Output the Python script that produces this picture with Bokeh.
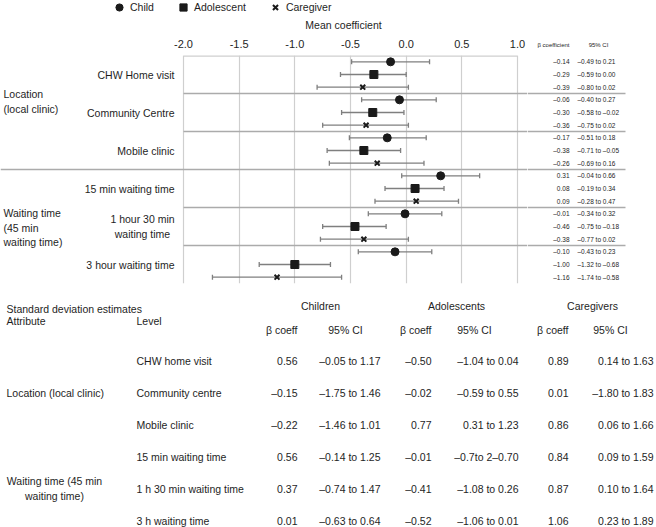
from bokeh.plotting import figure
from bokeh.models import (ColumnDataSource, Range1d, FixedTicker, NumeralTickFormatter,
                          Whisker, TeeHead, Label, Legend, LegendItem, Span)
from bokeh.layouts import column, row
from bokeh.core.properties import value
from bokeh.embed import file_html
from bokeh.resources import INLINE

# ---------------- data: forest plot (mean coefficients) ----------------
series_names = ["Child", "Adolescent", "Caregiver"]
attributes = ["Location\n(local clinic)", "Waiting time\n(45 min\nwaiting time)"]
levels_per_attribute = [3, 3]
forest_levels = ["CHW Home visit", "Community Centre", "Mobile clinic",
                 "15 min waiting time", "1 hour 30 min\nwaiting time", "3 hour waiting time"]

child_beta = [-0.14, -0.06, -0.17, 0.31, -0.01, -0.10]
child_lo = [-0.49, -0.40, -0.51, -0.04, -0.34, -0.43]
child_hi = [0.21, 0.27, 0.18, 0.66, 0.32, 0.23]

adol_beta = [-0.29, -0.30, -0.38, 0.08, -0.46, -1.00]
adol_lo = [-0.59, -0.58, -0.71, -0.19, -0.75, -1.32]
adol_hi = [0.00, -0.02, -0.05, 0.34, -0.18, -0.68]

care_beta = [-0.39, -0.36, -0.26, 0.09, -0.38, -1.16]
care_lo = [-0.80, -0.75, -0.69, -0.28, -0.77, -1.74]
care_hi = [0.02, 0.02, 0.16, 0.47, 0.02, -0.58]

x_ticks = [-2.0, -1.5, -1.0, -0.5, 0.0, 0.5, 1.0]
right_headers = ["\u03b2 coefficient", "95% CI"]

# ---------------- data: standard deviation table ----------------
sd_attributes = ["Location (local clinic)", "Waiting time (45 min\nwaiting time)"]
sd_levels = ["CHW home visit", "Community centre", "Mobile clinic",
             "15 min waiting time", "1 h 30 min waiting time", "3 h waiting time"]
sd_groups = ["Children", "Adolescents", "Caregivers"]
sd_child_beta = [0.56, -0.15, -0.22, 0.56, 0.37, 0.01]
sd_child_ci = ["\u20130.05 to 1.17", "\u20131.75 to 1.46", "\u20131.46 to 1.01",
               "\u20130.14 to 1.25", "\u20130.74 to 1.47", "\u20130.63 to 0.64"]
sd_adol_beta = [-0.50, -0.02, 0.77, -0.01, -0.41, -0.52]
sd_adol_ci = ["\u20131.04 to 0.04", "\u20130.59 to 0.55", "0.31 to 1.23",
              "\u20130.7to 2\u20130.70", "\u20131.08 to 0.26", "\u20131.06 to 0.01"]
sd_care_beta = [0.89, 0.01, 0.86, 0.84, 0.87, 1.06]
sd_care_ci = ["0.14 to 1.63", "\u20131.80 to 1.83", "0.06 to 1.66",
              "0.09 to 1.59", "0.10 to 1.64", "0.23 to 1.89"]

# ---------------- style ----------------
FONT = "Liberation Sans"
TEXT = "#1e1e1e"
MARK = "#1a1a1a"
BAR = "#7f7f7f"
GRID = "#cfcfcf"
SEP = "#ababab"
FS = "10.5px"


def fmt(v):
    return f"{v:.2f}".replace("-", "\u2013")


def bare(fig):
    fig.outline_line_color = None
    fig.xgrid.grid_line_color = None
    fig.ygrid.grid_line_color = None
    return fig


def style_top_axis(axis, size):
    axis.axis_line_color = None
    axis.major_tick_line_color = None
    axis.minor_tick_line_color = None
    axis.major_tick_out = 0
    axis.major_tick_in = 0
    axis.major_label_standoff = 8
    axis.major_label_text_font = FONT
    axis.major_label_text_font_size = size
    axis.major_label_text_color = TEXT


W = 656
H_HEAD = 33          # legend + axis title strip
H_FOREST = 260       # forest panel
H_TABLE = 527 - H_HEAD - H_FOREST
F_W = 527            # width of the coefficient panel figure
R_W = W - F_W        # right-hand text columns
AX_L, AX_R = 183, 517          # canvas px of x = -2.0 and x = 1.0
FRAME_TOP = 22                 # frame top inside forest figures
FRAME_H = 228
ppu = (AX_R - AX_L) / (x_ticks[-1] - x_ticks[0])
x_start = x_ticks[0] - AX_L / ppu
x_end = x_ticks[-1] + (F_W - AX_R) / ppu
n_rows = 3 * len(forest_levels)

series_style = [("circle", 8, 1), ("square", 8, 1), ("x", 7, 2)]

# ---------------- header strip: legend + axis title ----------------
h = bare(figure(width=W, height=H_HEAD, x_range=Range1d(0, W), y_range=Range1d(H_HEAD, 0),
                x_axis_location=None, y_axis_location=None, min_border=0,
                output_backend="svg", toolbar_location=None))
nan = float("nan")
proxies = [h.scatter(x=[nan], y=[nan], marker=m, size=s, fill_color=MARK, line_color=MARK,
                     line_width=lw) for (m, s, lw) in series_style]
legend = Legend(items=[LegendItem(label=n, renderers=[r]) for n, r in zip(series_names, proxies)],
                orientation="horizontal", location=(110, 17), border_line_color=None,
                background_fill_alpha=0, padding=0, margin=0, spacing=20,
                glyph_width=18, glyph_height=18, label_height=18, label_standoff=2,
                label_text_font=FONT, label_text_font_size=FS, label_text_color=TEXT)
h.add_layout(legend)
h.text(x=[343], y=[24], text=["Mean coefficient"], text_font=value(FONT), text_font_size=FS,
       text_align="center", text_baseline="middle", text_color=TEXT)

# ---------------- forest figure ----------------
p = figure(width=F_W, height=H_FOREST, x_range=Range1d(x_start, x_end), y_range=Range1d(n_rows, 0),
           x_axis_location="above", y_axis_location=None, output_backend="svg",
           toolbar_location=None, min_border_left=0, min_border_right=0,
           min_border_top=FRAME_TOP, min_border_bottom=H_FOREST - FRAME_TOP - FRAME_H)
p.outline_line_color = None

ax = p.xaxis[0]
ax.ticker = FixedTicker(ticks=x_ticks)
ax.formatter = NumeralTickFormatter(format="0.0")
style_top_axis(ax, "11px")

p.xgrid.ticker = FixedTicker(ticks=x_ticks)
p.xgrid.grid_line_color = GRID
p.xgrid.grid_line_width = 1.2
p.ygrid.grid_line_color = None

# top border of the coefficient panel
p.segment(x0=[x_ticks[0]], x1=[x_ticks[-1]], y0=[0], y1=[0], line_color=GRID, line_width=2.4)

# separators between levels / attributes
level_bounds = [3 * g for g in range(1, len(forest_levels))]
attr_bounds = []
acc = 0
for n in levels_per_attribute[:-1]:
    acc += n
    attr_bounds.append(3 * acc)
short_bounds = [b for b in level_bounds if b not in attr_bounds]
p.segment(x0=[x_ticks[0]] * len(short_bounds), x1=[x_end] * len(short_bounds),
          y0=short_bounds, y1=short_bounds, line_color=SEP, line_width=1.5)
for b in attr_bounds:
    p.add_layout(Span(location=b, dimension="width", line_color=SEP, line_width=1.5))

series = [(child_beta, child_lo, child_hi), (adol_beta, adol_lo, adol_hi),
          (care_beta, care_lo, care_hi)]
right_y, right_beta_txt, right_ci_txt = [], [], []
for k, ((beta, lo, hi), (marker, size, lw)) in enumerate(zip(series, series_style)):
    ys = [3 * g + k + 0.5 for g in range(len(beta))]
    src = ColumnDataSource(dict(y=ys, beta=beta, lo=lo, hi=hi))
    p.add_layout(Whisker(source=src, base="y", lower="lo", upper="hi", dimension="width",
                         line_color=BAR, line_width=1.3,
                         lower_head=TeeHead(size=5, line_color=BAR, line_width=1.3),
                         upper_head=TeeHead(size=5, line_color=BAR, line_width=1.3)))
    p.scatter("beta", "y", source=src, marker=marker, size=size, fill_color=MARK,
              line_color=MARK, line_width=lw)
    for yv, b, l, hv in zip(ys, beta, lo, hi):
        right_y.append(yv)
        right_beta_txt.append(fmt(b))
        right_ci_txt.append(f"{fmt(l)} to {fmt(hv)}")

# level labels (left)
LEVEL_RIGHT = 174
for g, lev in enumerate(forest_levels):
    multi = "\n" in lev
    p.add_layout(Label(x=LEVEL_RIGHT - 32 if multi else LEVEL_RIGHT, y=3 * g + 1.5,
                       x_units="screen", text=lev, text_font=FONT, text_font_size=FS,
                       text_align="center" if multi else "right", text_baseline="middle",
                       text_color=TEXT))
# attribute labels
attr_y = [3.63, 13.58]
for a, yv in zip(attributes, attr_y):
    p.add_layout(Label(x=3, y=yv, x_units="screen", text=a, text_font=FONT,
                       text_font_size=FS, text_align="left", text_baseline="middle",
                       text_color=TEXT))

# ---------------- right-hand columns: beta coefficient and 95% CI ----------------
BETA_COL_R, CI_COL_L = 569, 577
HEAD_C = [553, 598]
r = bare(figure(width=R_W, height=H_FOREST, x_range=Range1d(F_W, W), y_range=Range1d(n_rows, 0),
                x_axis_location="above", y_axis_location=None, output_backend="svg",
                toolbar_location=None, min_border_left=0, min_border_right=0,
                min_border_top=FRAME_TOP, min_border_bottom=H_FOREST - FRAME_TOP - FRAME_H))
rax = r.xaxis[0]
rax.ticker = FixedTicker(ticks=HEAD_C)
rax.major_label_overrides = {HEAD_C[0]: right_headers[0], HEAD_C[1]: right_headers[1]}
style_top_axis(rax, "6px")

SEP_END = 625
r.segment(x0=[F_W] * len(level_bounds), x1=[SEP_END] * len(level_bounds),
          y0=level_bounds, y1=level_bounds, line_color=SEP, line_width=1.5)
rtxt = dict(text_font=value(FONT), text_font_size="6.5px", text_color=TEXT, text_baseline="middle")
r.text(x=[BETA_COL_R] * len(right_y), y=right_y, text=right_beta_txt, text_align="right", **rtxt)
r.text(x=[CI_COL_L] * len(right_y), y=right_y, text=right_ci_txt, text_align="left", **rtxt)

# ---------------- standard deviation table ----------------
t = bare(figure(width=W, height=H_TABLE, x_range=Range1d(0, W), y_range=Range1d(H_TABLE, 0),
                x_axis_location=None, y_axis_location=None, output_backend="svg",
                toolbar_location=None, min_border=0))

OY = H_HEAD + H_FOREST   # page y of the table panel
ROW0, ROWSTEP = 360, 32.0
row_y = [ROW0 + ROWSTEP * i - OY for i in range(len(sd_levels))]
ATTR_X = 6
LEVEL_X = 136
BETA_R = [297, 431, 568]
CI_R = [380, 518, 653]
CI_HEAD = [345, 474, 610]
GROUP_C = [320, 456, 592]

txt = dict(text_font=value(FONT), text_font_size=FS, text_color=TEXT, text_baseline="middle")

t.text(x=[ATTR_X], y=[308 - OY], text=["Standard deviation estimates"], text_align="left", **txt)
t.text(x=[ATTR_X, LEVEL_X], y=[320 - OY] * 2, text=["Attribute", "Level"], text_align="left", **txt)
t.text(x=GROUP_C, y=[305 - OY] * 3, text=sd_groups, text_align="center", **txt)
t.text(x=BETA_R, y=[329 - OY] * 3, text=["\u03b2 coeff"] * 3, text_align="right", **txt)
t.text(x=CI_HEAD, y=[329 - OY] * 3, text=["95% CI"] * 3, text_align="center", **txt)

t.text(x=[LEVEL_X] * len(sd_levels), y=row_y, text=sd_levels, text_align="left", **txt)
for j, (betas, cis) in enumerate([(sd_child_beta, sd_child_ci), (sd_adol_beta, sd_adol_ci),
                                  (sd_care_beta, sd_care_ci)]):
    t.text(x=[BETA_R[j]] * len(betas), y=row_y, text=[fmt(b) for b in betas],
           text_align="right", **txt)
    t.text(x=[CI_R[j]] * len(cis), y=row_y, text=cis, text_align="right", **txt)

t.add_layout(Label(x=ATTR_X, y=row_y[1], text=sd_attributes[0], text_font=FONT,
                   text_font_size=FS, text_align="left", text_baseline="middle", text_color=TEXT))
t.add_layout(Label(x=54, y=row_y[4], text=sd_attributes[1], text_font=FONT,
                   text_font_size=FS, text_align="center", text_baseline="middle", text_color=TEXT))

layout = column(h, row(p, r, spacing=0), t, spacing=0)
open("out.html", "w").write(file_html(layout, INLINE))
